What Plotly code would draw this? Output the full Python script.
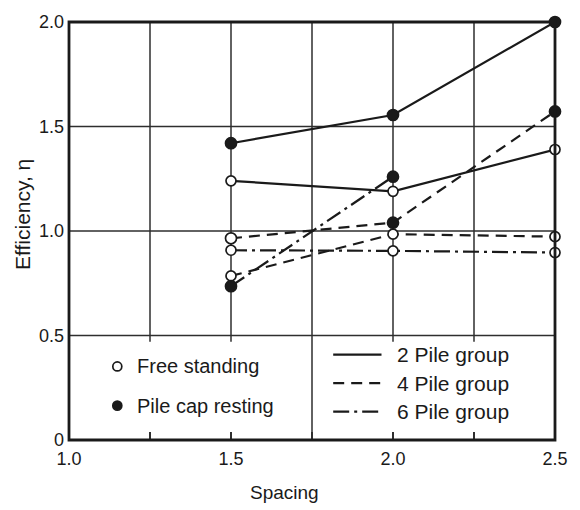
import plotly.graph_objects as go

# Pile spacing (x) and group efficiency values
spacing = [1.5, 2.0, 2.5]

free_2 = [1.24, 1.19, 1.39]
cap_2 = [1.42, 1.555, 2.0]
free_4 = [0.785, 0.985, 0.973]
cap_4 = [0.965, 1.04, 1.572]
free_6 = [0.908, 0.905, 0.897]
cap_6 = [0.736, 1.26, None]

x_ticks = [1.0, 1.25, 1.5, 1.75, 2.0, 2.25, 2.5]
x_ticktext = ["1.0", "", "1.5", "", "2.0", "", "2.5"]
y_ticks = [0, 0.5, 1.0, 1.5, 2.0]
y_ticktext = ["0", "0.5", "1.0", "1.5", "2.0"]

group_names = ["2 Pile group", "4 Pile group", "6 Pile group"]
condition_names = ["Free standing", "Pile cap resting"]

INK = "#1a1a1a"
GRID = "#2e2e2e"
FONT = "Liberation Sans, Arial, sans-serif"

W, H = 580, 510
ML, MR, MT, MB = 69, 18, 14, 70
PW, PH = W - ML - MR, H - MT - MB


def px2x(px):
    return (px - ML) / PW


def py2y(py):
    return (H - MB - py) / PH


dash_styles = {
    "2 Pile group": "solid",
    "4 Pile group": "11px,7px",
    "6 Pile group": "16px,5px,3px,5px",
}

fig = go.Figure()

series = [
    ("2 Pile group", free_2, False),
    ("2 Pile group", cap_2, True),
    ("4 Pile group", free_4, False),
    ("4 Pile group", cap_4, True),
    ("6 Pile group", free_6, False),
    ("6 Pile group", cap_6, True),
]

for group, values, filled in series:
    if filled:
        colors = [INK] * len(values)
        if values is cap_4:
            # the 1.5 point of this curve is printed hollow
            colors[0] = "white"
        marker = dict(symbol="circle", size=11, color=colors, line=dict(color=INK, width=1.7))
    else:
        marker = dict(symbol="circle", size=10, color="white", line=dict(color=INK, width=1.7))
    fig.add_trace(go.Scatter(
        x=spacing, y=values, mode="lines+markers",
        line=dict(color=INK, width=2.2, dash=dash_styles[group]),
        marker=marker, cliponaxis=False, showlegend=False,
        connectgaps=False,
    ))

shapes = []
# Grid: horizontal lines across the whole frame
for yv in [0.5, 1.0, 1.5]:
    shapes.append(dict(type="line", xref="x", yref="y", x0=1.0, x1=2.5, y0=yv, y1=yv,
                       line=dict(color=GRID, width=1.5), layer="below"))
# Vertical grid lines above the legend strip
for xv in [1.25, 1.5, 2.0, 2.25]:
    shapes.append(dict(type="line", xref="x", yref="y", x0=xv, x1=xv, y0=0.5, y1=2.0,
                       line=dict(color=GRID, width=1.5), layer="below"))
    # short tick hanging below the 0.5 line
    shapes.append(dict(type="line", xref="x", yref="y", x0=xv, x1=xv, y0=0.5, y1=0.47,
                       line=dict(color=GRID, width=1.5), layer="below"))
# Divider between the two legend boxes runs full height
shapes.append(dict(type="line", xref="x", yref="y", x0=1.75, x1=1.75, y0=0, y1=2.0,
                   line=dict(color=GRID, width=1.5), layer="below"))
# Frame
shapes.append(dict(type="rect", xref="paper", yref="paper", x0=0, x1=1, y0=0, y1=1,
                   line=dict(color=INK, width=2.8)))

# Legend keys: marker symbols
for (py, fill) in [(365, "white"), (405, INK)]:
    shapes.append(dict(type="circle", xref="paper", yref="paper",
                       xsizemode="pixel", ysizemode="pixel",
                       xanchor=px2x(118), yanchor=py2y(py),
                       x0=-4.5, x1=4.5, y0=-4.5, y1=4.5,
                       fillcolor=fill, line=dict(color=INK, width=1.7)))
# Legend keys: line styles
for py, group in zip([353, 382, 411], group_names):
    shapes.append(dict(type="line", xref="paper", yref="paper",
                       x0=px2x(337), x1=px2x(386), y0=py2y(py), y1=py2y(py),
                       line=dict(color=INK, width=2.2, dash=dash_styles[group])))

annotations = []
for py, name in zip([365, 405], condition_names):
    annotations.append(dict(text=name, xref="paper", yref="paper", x=px2x(136), y=py2y(py),
                            xanchor="left", yanchor="middle", showarrow=False,
                            font=dict(family=FONT, size=20, color=INK)))
for py, name in zip([353, 382, 411], group_names):
    annotations.append(dict(text=name, xref="paper", yref="paper", x=px2x(400), y=py2y(py),
                            xanchor="left", yanchor="middle", showarrow=False,
                            font=dict(family=FONT, size=21, color=INK)))
# Axis titles
annotations.append(dict(text="Spacing", xref="paper", yref="paper", x=px2x(288), y=py2y(493),
                        xanchor="center", yanchor="middle", showarrow=False,
                        font=dict(family=FONT, size=19, color=INK)))
annotations.append(dict(text="Efficiency, η", xref="paper", yref="paper", x=px2x(22), y=py2y(210),
                        xanchor="center", yanchor="middle", showarrow=False, textangle=-90,
                        font=dict(family=FONT, size=21, color=INK)))

fig.update_layout(
    width=W, height=H,
    margin=dict(l=ML, r=MR, t=MT, b=MB),
    paper_bgcolor="white", plot_bgcolor="white",
    shapes=shapes, annotations=annotations,
    font=dict(family=FONT, size=18, color=INK),
    xaxis=dict(range=[1.0, 2.5], tickvals=x_ticks, ticktext=x_ticktext,
               ticks="inside", ticklen=8, tickwidth=1.5, tickcolor=GRID,
               showgrid=False, zeroline=False, showline=False,
               tickfont=dict(family=FONT, size=18, color=INK), ticklabelstandoff=6),
    yaxis=dict(range=[0, 2.0], tickvals=y_ticks, ticktext=y_ticktext,
               ticks="", showgrid=False, zeroline=False, showline=False,
               tickfont=dict(family=FONT, size=18, color=INK), ticklabelstandoff=4),
)

fig.write_html("out.html")
